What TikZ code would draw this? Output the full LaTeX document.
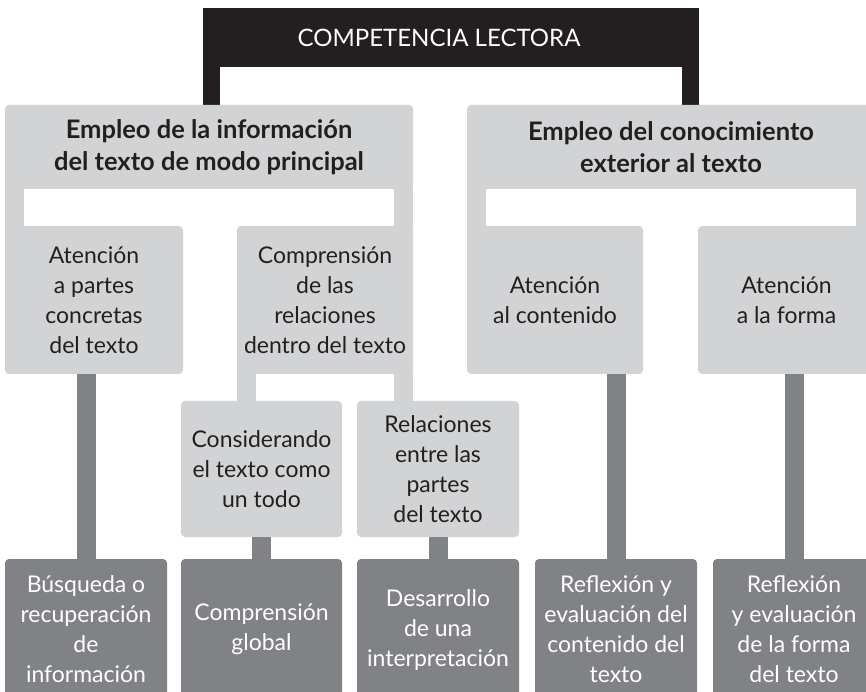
\documentclass[tikz,border=0pt]{standalone}
\usepackage{fontspec}
\setmainfont{Lato}
\definecolor{lectBlack}{HTML}{231F20}
\definecolor{lectLight}{HTML}{D1D3D4}
\definecolor{lectDark}{HTML}{808285}

\tikzset{
  lightbox/.style={fill=lectLight, text=lectBlack, rounded corners=4pt, inner sep=0pt,
    align=center, font=\fontsize{23}{30}\selectfont},
  darkbox/.style={fill=lectDark, text=white, rounded corners=4pt, inner sep=0pt,
    align=center, font=\fontsize{23}{30}\selectfont, minimum width=162pt, minimum height=141pt},
  headbox/.style={lightbox, font=\bfseries\fontsize{25.5}{32}\selectfont,
    minimum width=408pt, minimum height=84pt},
  lightleg/.style={draw=lectLight, line width=19pt},
  blackleg/.style={draw=lectBlack, line width=17pt},
  darkstem/.style={draw=lectDark, line width=19pt},
}

\begin{document}
\begin{tikzpicture}[x=1pt,y=1pt]

    \useasboundingbox (0,0) rectangle (866,691);
    \clip (0,0) rectangle (866,691);

    % Title
    \node[fill=lectBlack, text=white, inner sep=0pt, minimum width=496pt, minimum height=59pt,
      font=\fontsize{24}{28}\selectfont] (title) at (451,653.5) {COMPETENCIA LECTORA\hspace*{24pt}};

    % Black legs
    \draw[blackleg] ([xshift=8.5pt,yshift=2pt]title.south west) -- ++(0,-40);
    \draw[blackleg] ([xshift=-8.5pt,yshift=2pt]title.south east) -- ++(0,-40);

    % Main aspects
    \node[headbox] (infoL) at (209,544) {Empleo de la información\\del texto de modo principal};
    \node[headbox] (infoR) at (671,544) {Empleo del conocimiento\\exterior al texto};

    % First row
    \node[lightbox, minimum width=178pt, minimum height=148pt] (atPartes) at (94,391)
      {Atención\\a partes\\concretas\\del texto};
    \node[lightbox, minimum width=176pt, minimum height=148pt] (compRel) at (325,391)
      {Comprensión\\de las\\relaciones\\dentro del texto};
    \node[lightbox, minimum width=176pt, minimum height=148pt] (atContenido) at (555,391)
      {Atención\\al contenido};
    \node[lightbox, minimum width=177pt, minimum height=148pt] (atForma) at (786.5,391)
      {Atención\\a la forma};

    % Second row
    \node[lightbox, minimum width=161pt, minimum height=136pt] (consTodo) at (261.5,222)
      {Considerando\\el texto como\\un todo};
    \node[lightbox, minimum width=162pt, minimum height=136pt] (relPartes) at (438,222)
      {Relaciones\\entre las\\partes\\del texto};

    % Gray legs
    \draw[lightleg] ([xshift=9.5pt,yshift=6pt]infoL.south west) -- ([xshift=9.5pt,yshift=-6pt]atPartes.north west);
    \draw[lightleg] ([xshift=-9.5pt,yshift=6pt]infoL.south east) -- ([xshift=-9.5pt,yshift=-6pt]compRel.north east);
    \draw[lightleg] ([xshift=9.5pt,yshift=6pt]infoR.south west) -- ([xshift=9.5pt,yshift=-6pt]atContenido.north west);
    \draw[lightleg] ([xshift=-9.5pt,yshift=6pt]infoR.south east) -- ([xshift=-9.5pt,yshift=-6pt]atForma.north east);
    \draw[lightleg] ([xshift=9.5pt,yshift=6pt]compRel.south west) -- ([xshift=9.5pt,yshift=-6pt]compRel.south west |- consTodo.north);
    \draw[lightleg] ([xshift=-9.5pt,yshift=6pt]compRel.south east) -- ([xshift=-9.5pt,yshift=-6pt]compRel.south east |- relPartes.north);

    % Processes
    \node[darkbox] (busqueda) at (86,61.5) {Búsqueda o\\recuperación\\de\\información};
    \node[darkbox, minimum width=161pt] (compGlobal) at (261.5,61.5) {Comprensión\\global};
    \node[darkbox] (desarrollo) at (438,61.5) {Desarrollo\\de una\\interpretación};
    \node[darkbox] (reflexCont) at (616,61.5) {Reflexión y\\evaluación del\\contenido del\\texto};
    \node[darkbox] (reflexForma) at (794,61.5) {Reflexión\\y evaluación\\de la forma\\del texto};

    % Dark stems
    \draw[darkstem] (busqueda.north) -- (busqueda.north |- atPartes.south);
    \draw[darkstem] (compGlobal.north) -- (compGlobal.north |- consTodo.south);
    \draw[darkstem] (desarrollo.north) -- (desarrollo.north |- relPartes.south);
    \draw[darkstem] (reflexCont.north) -- (reflexCont.north |- atContenido.south);
    \draw[darkstem] (reflexForma.north) -- (reflexForma.north |- atForma.south);

\end{tikzpicture}
\end{document}
